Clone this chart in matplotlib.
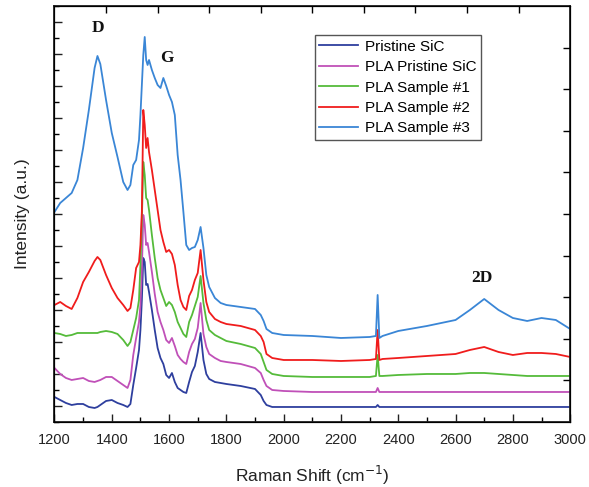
import matplotlib
matplotlib.use("Agg")
import matplotlib.pyplot as plt
from matplotlib.ticker import MultipleLocator

plt.rcParams['font.family'] = ['Liberation Sans', 'DejaVu Sans']

# Raman shift grid (cm^-1)
raman_shift = [1200, 1220, 1240, 1260, 1280, 1300, 1320, 1340, 1350, 1360, 1380, 1400,
               1420, 1440, 1455, 1465, 1475, 1485, 1495, 1500, 1505, 1510, 1515, 1520,
               1525, 1530, 1540, 1550, 1560, 1570, 1580, 1590, 1600, 1610, 1620, 1630,
               1640, 1650, 1660, 1670, 1680, 1690, 1700, 1710, 1720, 1730, 1740, 1760,
               1780, 1800, 1850, 1900, 1920, 1930, 1940, 1960, 2000, 2100, 2200, 2300,
               2322, 2328, 2334, 2345, 2400, 2500, 2600, 2650, 2700, 2750, 2800, 2850,
               2900, 2950, 3000]

pristine_sic = [25, 22, 19, 17, 18, 18, 15, 14, 15, 17, 21, 22,
                19, 17, 15, 18, 37, 54, 72, 92, 122, 164, 160, 137,
                138, 130, 112, 92, 74, 64, 58, 47, 44, 49, 40, 34,
                32, 30, 29, 40, 50, 56, 70, 89, 62, 48, 43, 40,
                39, 38, 36, 33, 27, 21, 17, 15, 15, 15, 15, 15,
                15, 17, 15, 15, 15, 15, 15, 15, 15, 15, 15, 15,
                15, 15, 15]

pla_pristine_sic = [54, 48, 44, 42, 43, 44, 41, 40, 41, 42, 45, 45,
                    41, 37, 34, 42, 67, 84, 100, 117, 152, 207, 197, 177,
                    179, 170, 150, 128, 110, 100, 92, 82, 79, 84, 76, 67,
                    63, 60, 58, 70, 78, 83, 94, 119, 88, 75, 68, 64,
                    61, 60, 58, 54, 49, 42, 36, 32, 31, 30, 30, 30,
                    30, 34, 30, 30, 30, 30, 30, 30, 30, 30, 30, 30,
                    30, 30, 30]

pla_sample1 = [89, 88, 86, 87, 89, 89, 89, 89, 89, 90, 91, 90,
               88, 82, 76, 80, 92, 104, 122, 157, 202, 260, 247, 224,
               222, 212, 187, 164, 144, 132, 124, 116, 120, 117, 110, 100,
               94, 88, 85, 100, 107, 116, 125, 146, 119, 102, 92, 87,
               84, 81, 78, 74, 68, 60, 52, 48, 46, 45, 45, 45,
               46, 67, 46, 46, 47, 48, 48, 49, 49, 48, 47, 46,
               46, 46, 46]

pla_sample2 = [117, 120, 116, 113, 124, 140, 150, 161, 165, 162, 147, 134,
               124, 117, 111, 114, 132, 154, 160, 177, 210, 312, 297, 274,
               284, 270, 252, 232, 212, 192, 180, 170, 172, 168, 157, 137,
               122, 115, 112, 126, 132, 142, 149, 172, 142, 120, 110, 103,
               100, 98, 96, 92, 86, 80, 68, 64, 62, 62, 61, 62,
               63, 92, 62, 63, 64, 66, 68, 72, 75, 70, 67, 69,
               69, 68, 65]

pla_sample3 = [210, 219, 224, 229, 242, 274, 312, 354, 366, 358, 322, 289,
               265, 240, 232, 237, 257, 262, 282, 307, 337, 367, 385, 362,
               357, 362, 352, 344, 337, 334, 344, 336, 327, 320, 307, 267,
               242, 210, 177, 172, 174, 175, 182, 195, 174, 147, 135, 124,
               119, 117, 115, 113, 107, 101, 93, 89, 87, 86, 84, 85,
               86, 127, 84, 86, 91, 96, 102, 112, 123, 112, 104, 101,
               104, 102, 93]

series_labels = ["Pristine SiC", "PLA Pristine SiC", "PLA Sample #1",
                 "PLA Sample #2", "PLA Sample #3"]
series_values = [pristine_sic, pla_pristine_sic, pla_sample1, pla_sample2, pla_sample3]
series_colors = ["#2e3f9e", "#c050b8", "#55bb3a", "#f01c1c", "#3a86d6"]

x_ticks = [1200, 1400, 1600, 1800, 2000, 2200, 2400, 2600, 2800, 3000]

peak_labels = ["D", "G", "2D"]
peak_label_x = [1352, 1592, 2692]
peak_label_y = [394, 364, 144]

fig = plt.figure(figsize=(5.89, 4.87), dpi=100)
ax = fig.add_axes([0.0925, 0.1335, 0.8755, 0.8542])

for vals, lab, col in zip(series_values, series_labels, series_colors):
    ax.plot(raman_shift, vals, color=col, lw=1.3, label=lab)

ax.set_xlim(1200, 3000)
ax.set_ylim(0, 416)
ax.set_xticks(x_ticks)
ax.xaxis.set_minor_locator(MultipleLocator(100))
ax.yaxis.set_minor_locator(MultipleLocator(16))
ax.set_yticks([16 + 32 * k for k in range(13)])
ax.set_yticklabels([])
ax.tick_params(axis='both', which='major', direction='in', length=6, width=1.0,
               labelsize=10.5, colors='#222222')
ax.tick_params(axis='both', which='minor', direction='in', length=3.5, width=1.0)
ax.tick_params(axis='x', which='major', pad=8)
for s in ax.spines.values():
    s.set_linewidth(1.3)
    s.set_color('#222222')

# top / right secondary ticks (10 divisions)
axt = ax.twiny()
axt.set_xlim(1200, 3000)
axt.set_xticks([1200 + 180 * k for k in range(1, 10)])
axt.set_xticklabels([])
axt.tick_params(axis='x', direction='in', length=5, width=1.0)
axr = ax.twinx()
axr.set_ylim(0, 416)
axr.set_yticks([41.6 * k for k in range(1, 10)])
axr.set_yticklabels([])
axr.tick_params(axis='y', direction='in', length=5, width=1.0)

for t, xx, yy in zip(peak_labels, peak_label_x, peak_label_y):
    ax.text(xx, yy, t, ha='center', va='center', fontsize=12.5, fontweight='bold',
            family='Liberation Serif', color='#111111')

ax.set_xlabel("Raman Shift (cm$^{-1}$)", fontsize=12.5, labelpad=12, color='#222222')
ax.set_ylabel("Intensity (a.u.)", fontsize=12.5, labelpad=14, color='#222222')

leg = ax.legend(loc='upper left', bbox_to_anchor=(0.505, 0.93), fontsize=11,
                fancybox=False, framealpha=1, edgecolor='#555555',
                handlelength=2.5, handletextpad=0.45, labelspacing=0.42,
                borderpad=0.3, borderaxespad=0)
leg.get_frame().set_linewidth(1.0)

fig.savefig("out.png", dpi=100)
